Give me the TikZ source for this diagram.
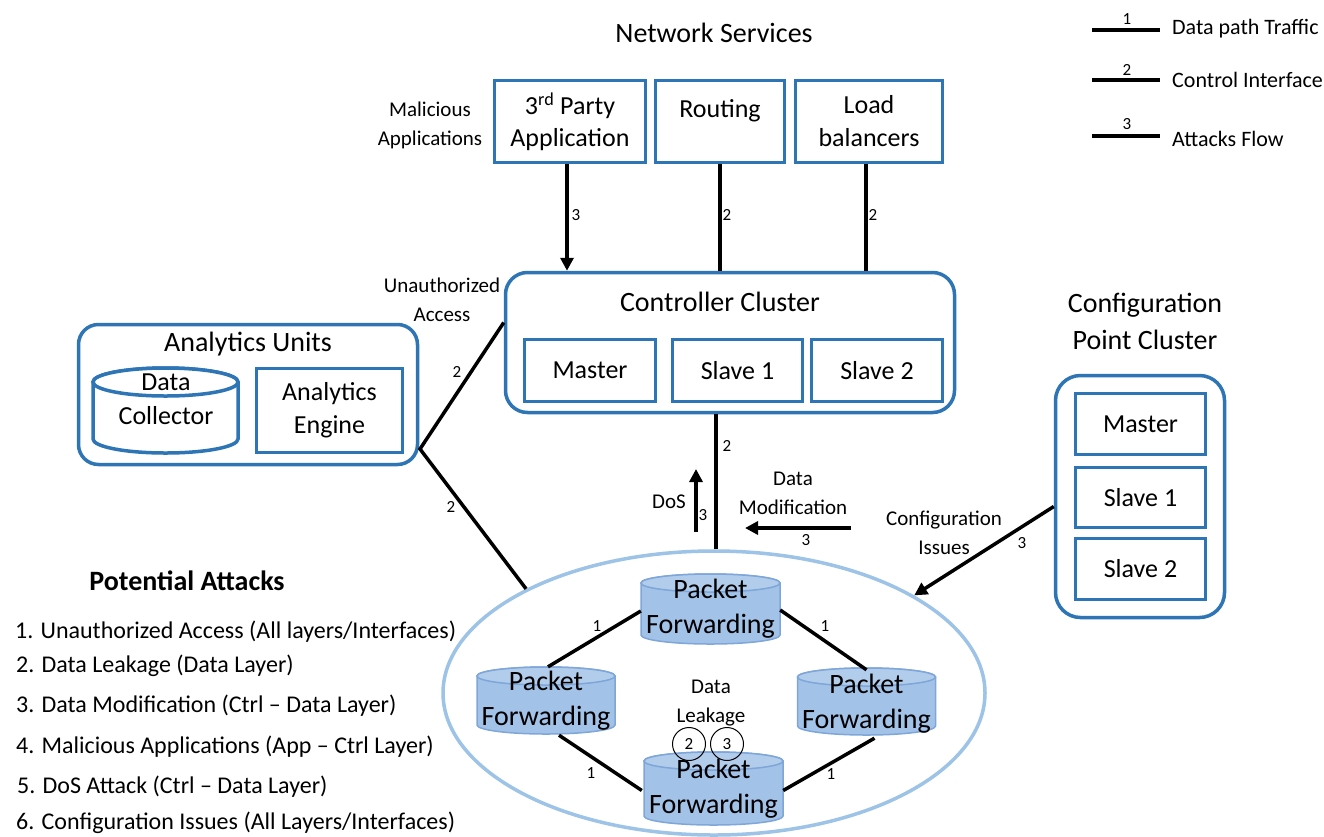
\documentclass[tikz,border=0pt]{standalone}
\usepackage{fontspec}
\setmainfont{Carlito}
\usetikzlibrary{arrows.meta,shapes.geometric,calc}

\definecolor{boxblue}{HTML}{2E75B6}
\definecolor{ringblue}{HTML}{9DC3E6}
\definecolor{cylbody}{HTML}{A3C2E8}
\definecolor{cyllid}{HTML}{B2CCEC}
\definecolor{cyledge}{HTML}{7EA6D8}

% drum (cylinder) outline: #1 body style, #2 centre x, #3 top y, #4 bottom y,
% #5 half width, #6 lid radius, #7 lid style
\newcommand\drumshape[7]{%
  \path[#1] (#2-#5,#3+#6) -- (#2-#5,#4-#6)
     arc[start angle=180,end angle=360,x radius=#5pt,y radius=#6pt]
     -- (#2+#5,#3+#6)
     arc[start angle=0,end angle=180,x radius=#5pt,y radius=#6pt] -- cycle;
  \path[#1,#7] (#2,#3+#6) ellipse[x radius=#5pt,y radius=#6pt];
}

\begin{document}
\begin{tikzpicture}[x=1pt,y=-1pt,
  heading/.style={font=\fontsize{28}{37}\selectfont, align=center, inner sep=0pt},
  boxtext/.style={font=\fontsize{26}{32}\selectfont, align=center},
  drumtext/.style={font=\fontsize{28}{35}\selectfont, align=center, inner sep=0pt},
  note/.style={font=\fontsize{21}{29}\selectfont, align=center, inner sep=0pt},
  legendtext/.style={font=\fontsize{22}{26}\selectfont, anchor=west, inner sep=0pt},
  num/.style={font=\fontsize{17}{20}\selectfont, inner sep=0pt},
  listitem/.style={font=\fontsize{24}{28}\selectfont, anchor=west, inner sep=0pt},
  bluebox/.style={draw=boxblue, line width=3.5pt, rectangle, inner sep=0pt},
  cluster/.style={bluebox, rounded corners=22pt},
  link/.style={line width=3.5pt, draw=black},
  attack/.style={link, -{Triangle[length=13pt,width=13pt]}},
  pfbody/.style={fill=cylbody, draw=cyledge, line width=1.5pt},
  pflid/.style={fill=cyllid},
  dcbody/.style={fill=white, draw=boxblue, line width=3.5pt},
  dclid/.style={fill=white},
  legendline/.style={line width=4pt}
]
\useasboundingbox (0,0) rectangle (1324,836);
\fill[white] (0,0) rectangle (1324,836);

% ---------- legend ----------
\coordinate (lg1a) at (1092,30);  \coordinate (lg1b) at (1160,30);
\coordinate (lg2a) at (1092,80);  \coordinate (lg2b) at (1160,80);
\coordinate (lg3a) at (1092,136); \coordinate (lg3b) at (1160,136);
\draw[legendline] (lg1a) -- (lg1b);
\draw[legendline] (lg2a) -- (lg2b);
\draw[legendline] (lg3a) -- (lg3b);
\node[num] (lgn1) at (1127,19) {1};
\node[num] (lgn2) at (1127,70) {2};
\node[num] (lgn3) at (1127,124) {3};
\node[legendtext] (lgt1) at (1172,29) {Data path Traffic};
\node[legendtext] (lgt2) at (1172,80) {Control Interface};
\node[legendtext] (lgt3) at (1172,139) {Attacks Flow};

% ---------- network services ----------
\node[heading] (netsvc) at (714,33) {Network Services};
\node[bluebox, boxtext, minimum width=151pt, minimum height=82pt] (app) at (570,121.5)
  {3\textsuperscript{rd} Party\\Application};
\node[bluebox, minimum width=129pt, minimum height=82pt] (routing) at (720,121.5) {};
\node[boxtext] (routingtxt) at (720,111) {Routing};
\node[bluebox, boxtext, minimum width=147pt, minimum height=82pt] (load) at (869,121.5)
  {Load\\[1pt]balancers};
\node[note] (malapp) at (430,125) {Malicious\\Applications};

% ---------- controller cluster ----------
\node[cluster, minimum width=449pt, minimum height=140pt] (ctrl) at (730,342.5) {};
\node[heading] (ctrltitle) at (720,302) {Controller Cluster};
\node[bluebox, boxtext, minimum width=131pt, minimum height=62pt] (cmaster) at (590,370.5) {Master};
\node[bluebox, boxtext, minimum width=130pt, minimum height=62pt] (cslave1) at (737.5,370.5) {Slave 1};
\node[bluebox, boxtext, minimum width=131pt, minimum height=62pt] (cslave2) at (877,370.5) {Slave 2};

\draw[attack] ($(app.south)+(-3,0)$) -- ($(app.south |- ctrl.north)+(-3,0)$);
\draw[link] (routing.south) -- (routing.south |- ctrl.north);
\draw[link] ($(load.south)+(-3,0)$) -- ($(load.south |- ctrl.north)+(-3,0)$);
\node[num] (n3app) at (576,215) {3};
\node[num] (n2rt) at (727,215) {2};
\node[num] (n2lb) at (873,215) {2};

\node[note] (unauth) at (442,299.5) {Unauthorized\\Access};

% ---------- analytics units ----------
\node[cluster, rounded corners=20pt, minimum width=339pt, minimum height=140pt] (anal) at (248,394.5) {};
\node[heading] (analtitle) at (248,344) {Analytics Units};
\drumshape{dcbody}{165.5}{368}{453}{72.5}{14}{dclid}
\node[drumtext, font=\fontsize{26}{34}\selectfont] (dcol) at (166,399) {Data\\Collector};
\node[bluebox, boxtext, font=\fontsize{26}{33}\selectfont, minimum width=146pt, minimum height=84pt] (engine) at (329.5,410.5)
  {Analytics\\Engine};

% ---------- data plane ----------
\node[draw=ringblue, line width=3.5pt, ellipse, minimum width=542pt, minimum height=284pt, inner sep=0pt]
  (dp) at (714,693) {};

\drumshape{pfbody}{710.5}{574}{644}{69.5}{9}{pflid}
\node[drumtext, minimum width=139pt, minimum height=70pt] (ct) at (710.5,609) {Packet\\Forwarding};
\drumshape{pfbody}{546}{667}{734}{69}{9}{pflid}
\node[drumtext, minimum width=138pt, minimum height=67pt] (cl) at (546,700.5) {Packet\\Forwarding};
\drumshape{pfbody}{866.5}{668}{735}{69}{9}{pflid}
\node[drumtext, minimum width=138pt, minimum height=67pt] (cr) at (866.5,703.5) {Packet\\Forwarding};
\drumshape{pfbody}{713.5}{752}{825}{69.5}{9}{pflid}
\node[drumtext, minimum width=139pt, minimum height=73pt] (cb) at (713.5,788.5) {Packet\\Forwarding};

\draw[link] ($(ct.west)+(0,2)$) -- ($(cl.north)+(2,0)$);
\draw[link] ($(ct.east)+(0,1)$) -- (cr.north);
\draw[link] ($(cl.south)+(13,1)$) -- ($(cb.west)+(-2,2)$);
\draw[link] ($(cr.south)+(8,1)$) -- ($(cb.east)+(0,2)$);
\node[num] (n1a) at (597,626) {1};
\node[num] (n1b) at (825,626) {1};
\node[num] (n1c) at (591,773) {1};
\node[num] (n1d) at (831,774) {1};

\node[note] (leak) at (711,703.5) {Data\\Leakage};
\node[draw, circle, line width=1pt, minimum size=33pt, inner sep=0pt, num] (leak2) at (689,744) {2};
\node[draw, circle, line width=1pt, minimum size=33pt, inner sep=0pt, num] (leak3) at (727,744) {3};

% ---------- control links ----------
\coordinate (junction) at (420,449);
\draw[link] ($(ctrl.west)+(0,-20)$) -- (junction) -- (dp.151);
\node[num] (n2up) at (457,372) {2};
\node[num] (n2dn) at (451,507) {2};

\draw[link] ($(dp.north)+(2,0)$) -- ($(dp.north |- ctrl.south)+(2,0)$);
\node[num] (n2v) at (727,446) {2};

\coordinate (dosfrom) at (696,532);
\coordinate (dosto) at (696,469);
\draw[attack] (dosfrom) -- (dosto);
\node[note] (dos) at (669,502) {DoS};
\node[num] (n3dos) at (703,515) {3};

\coordinate (modfrom) at (851,528);
\coordinate (modto) at (745,528);
\draw[attack] (modfrom) -- (modto);
\node[note] (datamod) at (793,493.5) {Data\\Modification};
\node[num] (n3mod) at (806,540) {3};

% ---------- configuration point cluster ----------
\node[heading] (cfgtitle) at (1145,321.5) {Configuration\\Point Cluster};
\node[cluster, rounded corners=25pt, minimum width=169pt, minimum height=242pt] (cfg) at (1140,496.5) {};
\node[bluebox, boxtext, minimum width=130pt, minimum height=61pt] (fmaster) at (1140.5,424) {Master};
\node[bluebox, boxtext, minimum width=130pt, minimum height=60pt] (fslave1) at (1140.5,497.5) {Slave 1};
\node[bluebox, boxtext, minimum width=130pt, minimum height=61pt] (fslave2) at (1140.5,569) {Slave 2};

\draw[attack] ($(cfg.west)+(0,10)$) -- (dp.26);
\node[note] (cfgissue) at (944,533) {Configuration\\Issues};
\node[num] (n3cfg) at (1022,543) {3};

% ---------- attack list ----------
\node[font=\bfseries\fontsize{28}{30}\selectfont, inner sep=0pt] (pattacks) at (187,581) {Potential Attacks};
\node[listitem] (pa1) at (15,632) {1. Unauthorized Access (All layers/Interfaces)};
\node[listitem] (pa2) at (16,666) {2. Data Leakage (Data Layer)};
\node[listitem] (pa3) at (16,706) {3. Data Modification (Ctrl – Data Layer)};
\node[listitem] (pa4) at (16,747) {4. Malicious Applications (App – Ctrl Layer)};
\node[listitem] (pa5) at (17,787) {5. DoS Attack (Ctrl – Data Layer)};
\node[listitem] (pa6) at (16,823) {6. Configuration Issues (All Layers/Interfaces)};
\end{tikzpicture}
\end{document}
